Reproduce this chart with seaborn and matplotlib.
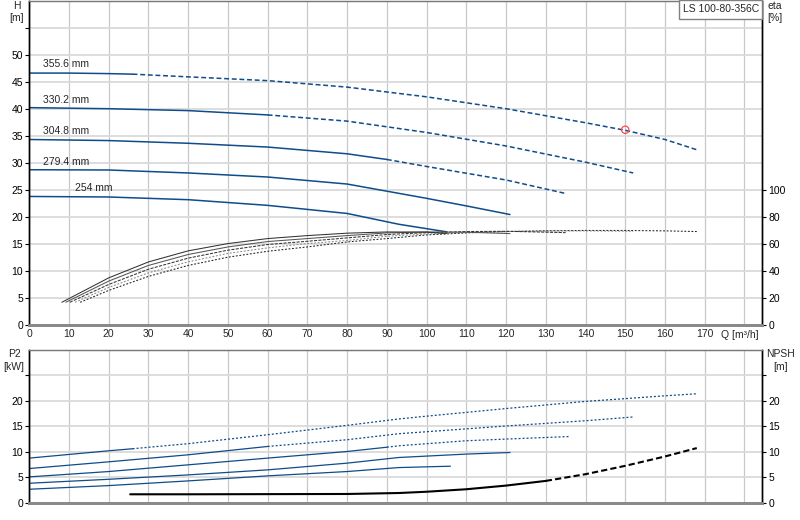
import matplotlib
matplotlib.use('Agg')
import matplotlib.pyplot as plt
import matplotlib.patches as mpatches
import seaborn as sns

# impeller diameters, biggest first
diameters = ['355.6 mm', '330.2 mm', '304.8 mm', '279.4 mm', '254 mm']

# Q-H curves
head_q = [
    [0, 10, 20, 26, 40, 60, 80, 100, 120, 140, 150, 160, 168],
    [0, 20, 40, 60, 80, 100, 120, 140, 152],
    [0, 20, 40, 60, 80, 90, 100, 120, 135],
    [0, 20, 40, 60, 80, 100, 110, 121],
    [0, 20, 40, 60, 80, 93, 105],
]
head_h = [
    [46.6, 46.6, 46.5, 46.4, 45.9, 45.2, 44.0, 42.2, 40.0, 37.4, 36.0, 34.3, 32.4],
    [40.2, 40.0, 39.65, 38.85, 37.7, 35.6, 33.1, 30.1, 28.1],
    [34.3, 34.1, 33.6, 32.9, 31.65, 30.6, 29.3, 26.8, 24.3],
    [28.7, 28.65, 28.1, 27.35, 26.05, 23.4, 22.0, 20.4],
    [23.75, 23.65, 23.15, 22.1, 20.6, 18.6, 17.2],
]
# where the solid part of each curve stops (dashed after)
solid_until = [26, 60, 90, 121, 106]

# efficiency curves [%]
eta_q = [
    [12.8, 20, 30, 40, 50, 60, 70, 80, 90, 100, 110, 120, 130, 140, 150, 160, 168],
    [11.5, 20, 30, 40, 50, 60, 70, 80, 90, 100, 110, 120, 130, 140, 152],
    [10.2, 20, 30, 40, 50, 60, 70, 80, 90, 100, 110, 120, 135],
    [9.2, 20, 30, 40, 50, 60, 70, 80, 90, 100, 110, 121],
    [8.2, 20, 30, 40, 50, 60, 70, 80, 90, 100, 105],
]
eta_v = [
    [16.6, 25.4, 35.8, 43.9, 50.0, 54.4, 57.6, 61.3, 63.8, 66.5, 68.0, 69.0, 69.6, 69.8, 69.8, 69.5, 69.0],
    [16.6, 27.6, 38.4, 46.6, 52.8, 56.9, 60.1, 62.4, 65.5, 67.2, 68.3, 69.0, 69.4, 69.5, 69.2],
    [16.6, 29.8, 41.1, 49.3, 55.2, 59.4, 61.8, 64.3, 66.8, 68.2, 69.0, 69.2, 68.2],
    [16.6, 32.3, 43.9, 52.0, 57.6, 61.6, 63.8, 66.0, 68.0, 68.7, 68.5, 67.5],
    [16.6, 34.7, 46.5, 54.7, 60.1, 63.8, 66.0, 67.8, 68.7, 68.6, 67.5],
]

# shaft power P2 [kW]
p2_q = [
    [0, 20, 26, 40, 60, 80, 93, 100, 120, 140, 160, 168],
    [0, 20, 40, 60, 80, 93, 120, 140, 152],
    [0, 20, 40, 60, 80, 90, 93, 110, 120, 136],
    [0, 20, 40, 60, 80, 93, 110, 121],
    [0, 20, 40, 60, 80, 93, 106],
]
p2_v = [
    [8.76, 10.2, 10.6, 11.6, 13.35, 15.2, 16.45, 17.0, 18.5, 19.9, 21.0, 21.4],
    [6.71, 8.03, 9.41, 11.05, 12.37, 13.55, 15.07, 16.1, 16.84],
    [5.07, 6.12, 7.44, 8.76, 10.06, 10.9, 11.18, 12.17, 12.5, 13.0],
    [3.82, 4.6, 5.46, 6.45, 7.77, 8.88, 9.55, 9.86],
    [2.64, 3.36, 4.28, 5.27, 6.12, 6.9, 7.17],
]

# NPSH [m]
npsh_q = [25.4, 40, 60, 80, 93, 100, 110, 120, 130, 140, 150, 160, 168]
npsh_v = [1.65, 1.65, 1.68, 1.71, 1.9, 2.15, 2.64, 3.36, 4.28, 5.6, 7.24, 9.08, 10.73]
npsh_solid_until = 130

# duty point
duty_q = [150]
duty_h = [36.1]
pump_name = 'LS 100-80-356C'

blue = '#0f4c8a'
fs = 7.5

sns.set_style('white')
plt.rcParams['font.family'] = ['Liberation Sans', 'DejaVu Sans']
plt.rcParams['font.size'] = fs

fig = plt.figure(figsize=(8, 5.2), dpi=100)
ax1 = fig.add_axes([0.0366, 0.3756, 0.9163, 0.623])
ax2 = fig.add_axes([0.0366, 0.0333, 0.9163, 0.2936])
ax1r = ax1.twinx()
ax2r = ax2.twinx()


def split_draw(ax, q, v, cut, dash, color, lw):
    qs = [a for a in q if a <= cut]
    vs = v[:len(qs)]
    sns.lineplot(x=qs, y=vs, ax=ax, color=color, lw=lw, sort=False)
    if len(qs) < len(q):
        i = len(qs) - 1
        sns.lineplot(x=q[i:], y=v[i:], ax=ax, color=color, lw=lw,
                     linestyle=dash, sort=False)


def style_axes(ax, axr, ymax, rmax, lticks, rticks, rlabels, llabels):
    ax.set_xlim(0, 184.5)
    ax.set_ylim(0, ymax)
    axr.set_ylim(0, rmax)
    ax.set_xticks(range(0, 190, 10))
    ax.set_yticks(lticks)
    ax.set_yticklabels(llabels)
    axr.set_yticks(rticks)
    axr.set_yticklabels(rlabels)
    ax.grid(True, axis='x', color='#c8c8c8', lw=0.9)
    ax.grid(True, axis='y', color='#dadada', lw=1.3)
    ax.set_axisbelow(True)
    ax.tick_params(axis='y', direction='out', length=3.2, width=0.8, pad=1.2,
                   colors='black', labelsize=fs)
    axr.tick_params(axis='y', direction='out', length=3.2, width=0.8, pad=1.2,
                    colors='black', labelsize=fs)
    ax.tick_params(axis='x', length=0, pad=3, labelsize=fs)
    for a in (ax, axr):
        a.spines['left'].set_color('black')
        a.spines['right'].set_color('black')
        a.spines['left'].set_linewidth(1.0)
        a.spines['right'].set_linewidth(1.0)
        a.spines['top'].set_color('#7a7a7a')
        a.spines['top'].set_linewidth(0.9)
        a.spines['bottom'].set_color('#8a8a8a')
        a.spines['bottom'].set_linewidth(2.0)
        a.set_xlabel('')
        a.set_ylabel('')


# --- top panel: H and eta ---
for q, h, cut in zip(head_q, head_h, solid_until):
    split_draw(ax1, q, h, cut, (0, (3.2, 1.8)), blue, 1.1)

eta_styles = [('#222222', (0, (1.8, 1.6))), ('#8a8a8a', (0, (1.8, 1.6))),
              ('#333333', (0, (3, 1.2))), ('#555555', '-'), ('#333333', '-')]
for (c, ls), q, e in zip(eta_styles, eta_q, eta_v):
    sns.lineplot(x=q, y=e, ax=ax1r, color=c, lw=0.75, linestyle=ls, sort=False)

sns.scatterplot(x=duty_q, y=duty_h, ax=ax1, marker='o', s=28,
                facecolor='none', edgecolor='#ff4a4a', linewidth=0.9, zorder=5)

label_pos = [(3.4, 48.3), (3.4, 41.7), (3.4, 35.8), (3.4, 30.2), (11.5, 25.3)]
for name, (x, y) in zip(diameters, label_pos):
    ax1.text(x, y, name, fontsize=fs, va='center', ha='left')

style_axes(ax1, ax1r, 60, 240, range(0, 60, 5), range(0, 120, 20),
           [str(v) for v in range(0, 120, 20)],
           [str(v) for v in range(0, 55, 5)] + [''])
ax1.set_xticklabels([str(v) for v in range(0, 180, 10)] + [''])
ax1.text(178.8, -0.032, 'Q [m³/h]', transform=ax1.get_xaxis_transform(),
         ha='center', va='center', fontsize=fs)

# --- bottom panel: P2 and NPSH ---
for q, p, cut in zip(p2_q, p2_v, solid_until):
    split_draw(ax2, q, p, cut, (0, (1.6, 1.6)), blue, 0.9)

split_draw(ax2r, npsh_q, npsh_v, npsh_solid_until, (0, (3, 1.5)), 'black', 1.5)

style_axes(ax2, ax2r, 30, 30, range(0, 30, 5), range(0, 30, 5),
           [str(v) for v in range(0, 25, 5)] + [''],
           [str(v) for v in range(0, 25, 5)] + [''])
ax2.set_xticklabels([])

# axis titles
fig.text(0.0205, 0.998, 'H\n[m]', ha='center', va='top', fontsize=fs, linespacing=1.3)
fig.text(0.959, 0.998, 'eta\n[%]', ha='left', va='top', fontsize=fs, linespacing=1.3)
fig.text(0.0175, 0.3285, 'P2\n[kW]', ha='center', va='top', fontsize=fs, linespacing=1.3)
fig.text(0.9756, 0.3285, 'NPSH\n[m]', ha='center', va='top', fontsize=fs, linespacing=1.3)

# pump name box
fig.add_artist(mpatches.Rectangle((0.849, 0.9635), 0.103, 0.0365,
                                  transform=fig.transFigure, fc='white',
                                  ec='#808080', lw=1.0, zorder=10))
fig.text(0.8535, 0.9835, pump_name, ha='left', va='center', fontsize=fs, zorder=11)

fig.savefig('out.png', dpi=100)
